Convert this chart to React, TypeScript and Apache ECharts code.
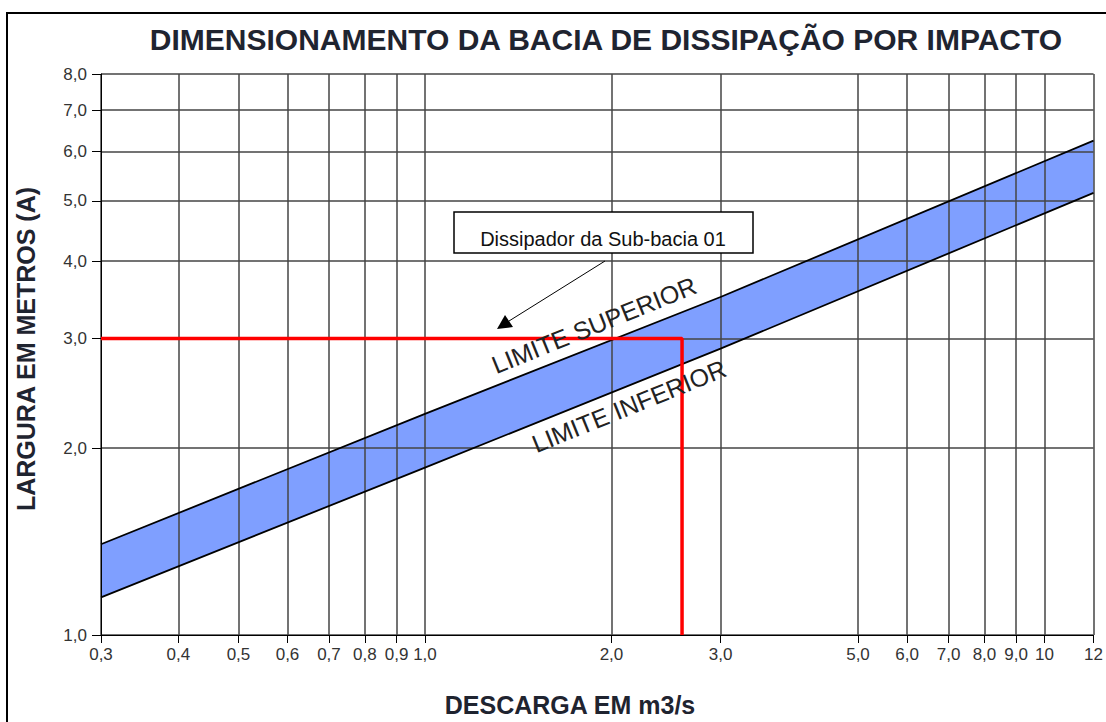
import React, { useEffect, useRef } from "react";
import * as echarts from "echarts";

const titleText = "DIMENSIONAMENTO DA BACIA DE DISSIPAÇÃO POR IMPACTO";
const xAxisName = "DESCARGA EM m3/s";
const yAxisName = "LARGURA EM METROS (A)";
const calloutText = "Dissipador da Sub-bacia 01";
const upperLabel = "LIMITE SUPERIOR";
const lowerLabel = "LIMITE INFERIOR";

const xTicks = [0.3, 0.4, 0.5, 0.6, 0.7, 0.8, 0.9, 1, 2, 3, 5, 6, 7, 8, 9, 10, 12];
const yTicks = [1, 2, 3, 4, 5, 6, 7, 8];

const upperLimit = [
  [0.3, 1.4],
  [1, 2.27],
  [3, 3.5],
  [12, 6.25],
];
const lowerLimit = [
  [0.3, 1.15],
  [1, 1.86],
  [3, 2.89],
  [12, 5.15],
];
const designPath = [
  [0.3, 3.0],
  [2.6, 3.0],
  [2.6, 1.0],
];

const FONT = "'Liberation Sans', Arial, sans-serif";

const fmt = (v: number) => {
  if (v >= 10) return String(Math.round(v));
  return (Math.round(v * 10) / 10).toFixed(1).replace(".", ",");
};

export default function App() {
  const ref = useRef<HTMLDivElement>(null);
  useEffect(() => {
    if (!ref.current) return;
    const chart = echarts.init(ref.current, null, { renderer: "svg" });
    const bandPoints = upperLimit.concat(lowerLimit.slice().reverse());
    const ang = (22 * Math.PI) / 180;
    chart.setOption({
      animation: false,
      backgroundColor: "#ffffff",
      title: {
        text: titleText,
        left: 601,
        top: 19,
        textAlign: "center",
        textStyle: { fontFamily: FONT, fontSize: 30, fontWeight: "bold", color: "#1f2430" },
      },
      grid: { left: 101, right: 6, top: 74, bottom: 87, containLabel: false },
      xAxis: {
        type: "log",
        logBase: 10,
        min: 0.3,
        max: 12,
        axisLine: { show: true, lineStyle: { color: "#000", width: 1 } },
        axisTick: { show: true, customValues: xTicks, length: 8, lineStyle: { color: "#000" } },
        axisLabel: {
          customValues: xTicks,
          formatter: (v: number) => fmt(v),
          fontFamily: FONT,
          fontSize: 17,
          color: "#333",
          margin: 11,
          hideOverlap: false,
          showMinLabel: true,
          showMaxLabel: true,
        },
        splitLine: { show: true, lineStyle: { color: "#444", width: 1.5 } },
      },
      yAxis: {
        type: "log",
        logBase: 10,
        min: 1,
        max: 8,
        axisLine: { show: true, lineStyle: { color: "#000", width: 1 } },
        axisTick: { show: true, customValues: yTicks, length: 9, lineStyle: { color: "#000" } },
        axisLabel: {
          customValues: yTicks,
          formatter: (v: number) => fmt(v),
          fontFamily: FONT,
          fontSize: 17,
          color: "#333",
          margin: 14,
          showMinLabel: true,
          showMaxLabel: true,
        },
        splitLine: { show: true, lineStyle: { color: "#444", width: 1.5 } },
      },
      graphic: [
        {
          type: "rect",
          shape: { x: 7, y: 13, width: 1120, height: 730 },
          style: { fill: "none", stroke: "#000", lineWidth: 2 },
          silent: true,
          z: 100,
        },
        {
          type: "text",
          x: 26,
          y: 349,
          rotation: Math.PI / 2,
          style: {
            text: yAxisName,
            fontFamily: FONT,
            fontSize: 25,
            fontWeight: "bold",
            fill: "#1f2430",
            textAlign: "center",
            textVerticalAlign: "middle",
          },
        },
        {
          type: "text",
          x: 570,
          y: 705,
          style: {
            text: xAxisName,
            fontFamily: FONT,
            fontSize: 25,
            fontWeight: "bold",
            fill: "#1f2430",
            textAlign: "center",
            textVerticalAlign: "middle",
          },
        },
        {
          type: "rect",
          shape: { x: 454, y: 212, width: 299, height: 41 },
          style: { fill: "#fff", stroke: "#000", lineWidth: 1.5 },
          z: 50,
        },
        {
          type: "text",
          x: 603,
          y: 239,
          style: {
            text: calloutText,
            fontFamily: FONT,
            fontSize: 20,
            fill: "#111",
            textAlign: "center",
            textVerticalAlign: "middle",
          },
          z: 51,
        },
        {
          type: "line",
          shape: { x1: 605, y1: 261, x2: 509, y2: 321 },
          style: { stroke: "#000", lineWidth: 1 },
          z: 50,
        },
        {
          type: "polygon",
          shape: { points: [[497, 329], [513, 327], [505, 315]] },
          style: { fill: "#000" },
          z: 50,
        },
        {
          type: "text",
          x: 594,
          y: 325,
          rotation: ang,
          style: {
            text: upperLabel,
            fontFamily: FONT,
            fontSize: 25,
            fill: "#222",
            textAlign: "center",
            textVerticalAlign: "middle",
          },
          z: 50,
        },
        {
          type: "text",
          x: 629,
          y: 406,
          rotation: ang,
          style: {
            text: lowerLabel,
            fontFamily: FONT,
            fontSize: 25,
            fill: "#222",
            textAlign: "center",
            textVerticalAlign: "middle",
          },
          z: 50,
        },
      ],
      series: [
        {
          type: "custom",
          z: -1,
          silent: true,
          data: bandPoints,
          renderItem: (params: any, api: any) => {
            if (params.dataIndex !== 0) return null;
            const pts = bandPoints.map((p) => api.coord(p));
            return { type: "polygon", shape: { points: pts }, style: { fill: "#7f9fff" } };
          },
        },
        {
          type: "line",
          data: upperLimit,
          symbol: "none",
          lineStyle: { color: "#000", width: 1.8 },
          silent: true,
          z: 3,
        },
        {
          type: "line",
          data: lowerLimit,
          symbol: "none",
          lineStyle: { color: "#000", width: 1.8 },
          silent: true,
          z: 3,
        },
        {
          type: "line",
          data: designPath,
          symbol: "none",
          lineStyle: { color: "#ff0000", width: 3.5 },
          silent: true,
          clip: false,
          z: 5,
        },
      ],
    });
    return () => chart.dispose();
  }, []);
  return (
    <div
      ref={ref}
      style={{ position: "fixed", left: 0, top: 0, width: 1106, height: 722, background: "#fff" }}
    />
  );
}
